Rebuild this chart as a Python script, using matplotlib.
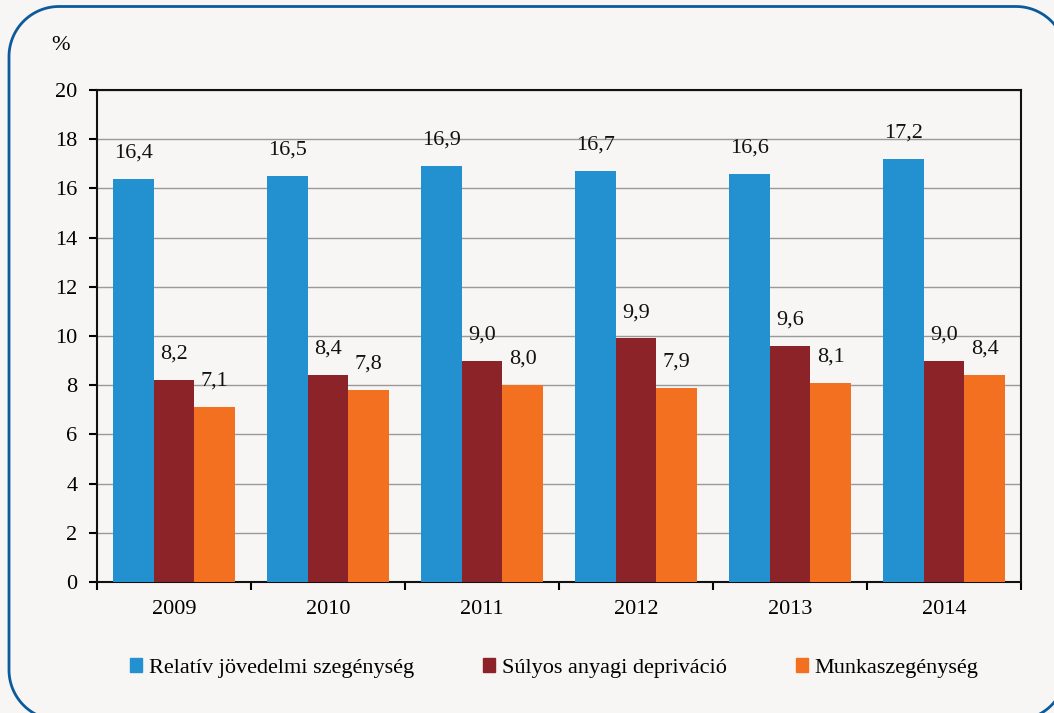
import matplotlib.pyplot as plt
import numpy as np
from matplotlib.lines import Line2D
from matplotlib.transforms import IdentityTransform

years = ["2009", "2010", "2011", "2012", "2013", "2014"]
relativ = [16.4, 16.5, 16.9, 16.7, 16.6, 17.2]
sulyos = [8.2, 8.4, 9.0, 9.9, 9.6, 9.0]
munka = [7.1, 7.8, 8.0, 7.9, 8.1, 8.4]
series_names = ["Relatív jövedelmi szegénység", "Súlyos anyagi depriváció", "Munkaszegénység"]
colors = ["#2391d0", "#8b2328", "#f37021"]

plt.rcParams["font.family"] = ["Liberation Serif", "DejaVu Serif"]
bg = "#f7f6f4"
W, H = 1054, 713

fig = plt.figure(figsize=(W / 100, H / 100), dpi=100, facecolor=bg)


def rounded_rect(x0, y0, x1, y1, r, n=30):
    # corner arcs as polylines (pixel coords, y up)
    pts = []
    for cx, cy, a0 in [(x1 - r, y1 - r, 0), (x0 + r, y1 - r, 90),
                       (x0 + r, y0 + r, 180), (x1 - r, y0 + r, 270)]:
        t = np.radians(np.linspace(a0, a0 + 90, n))
        pts += list(zip(cx + r * np.cos(t), cy + r * np.sin(t)))
    pts.append(pts[0])
    return np.array(pts)


# rounded frame around the chart, runs off right and bottom edges
fr = rounded_rect(9, -7, 1066, H - 6.5, 50)
fig.lines.append(Line2D(fr[:, 0], fr[:, 1], transform=IdentityTransform(),
                        color="#0b5a9c", linewidth=2, figure=fig))

ax = fig.add_axes([97 / W, 1 - 582 / H, (1021 - 97) / W, (582 - 90) / H])
ax.set_facecolor(bg)

x = np.arange(len(years))
w = 0.263
for i, (vals, c) in enumerate(zip([relativ, sulyos, munka], colors)):
    pos = x + (i - 1) * w
    ax.bar(pos, vals, width=w, color=c, label=series_names[i], zorder=3)
    for p, v in zip(pos, vals):
        ax.text(p, v + 1.05, f"{v:.1f}".replace(".", ","), ha="center", va="center",
                fontsize=16, color="#111111", zorder=4)

ax.set_xlim(-0.5, len(years) - 0.5)
ax.set_ylim(0, 20)
ax.set_yticks(np.arange(0, 21, 2))
ax.yaxis.grid(True, color="#9a9a9a", linewidth=1, zorder=0)
ax.set_axisbelow(True)

ax.set_xticks(x)
ax.set_xticklabels(years)
ax.set_xticks(np.arange(-0.5, len(years), 1), minor=True)
ax.tick_params(axis="x", which="major", length=0, pad=13, labelsize=16)
ax.tick_params(axis="x", which="minor", length=6, width=1.5, direction="out")
ax.tick_params(axis="y", length=6, width=1.5, direction="out", labelsize=16, pad=8)
for s in ax.spines.values():
    s.set_linewidth(1.5)
    s.set_color("#111111")

fig.text(60 / W, 1 - 45 / H, "%", fontsize=16, ha="center", va="center")

handles = [plt.Rectangle((0, 0), 1, 1, color=c) for c in colors]
fig.legend(handles, series_names, loc="center", bbox_to_anchor=(0.526, 1 - 668 / H),
           ncol=3, frameon=False, fontsize=16, handlelength=0.55, handleheight=0.55,
           handletextpad=0.3, columnspacing=3.1)

fig.savefig("out.png", dpi=100, facecolor=bg)
